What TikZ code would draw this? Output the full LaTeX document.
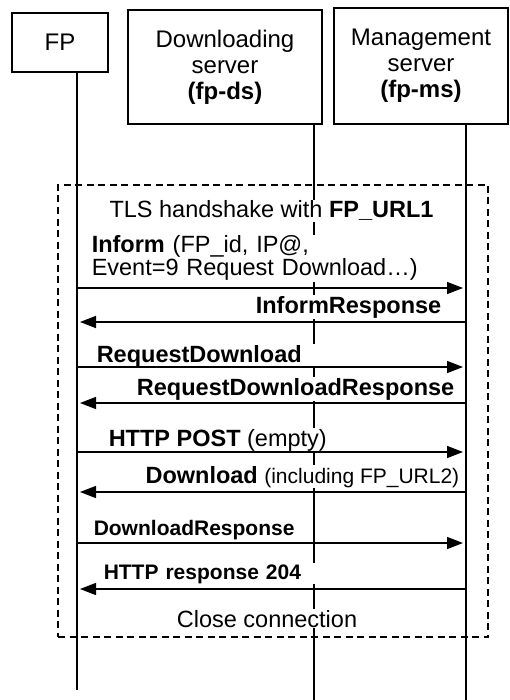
\documentclass[tikz,border=0pt]{standalone}
\usepackage{fontspec}
\setmainfont{Liberation Sans}
\usetikzlibrary{arrows.meta, positioning}
\newcommand{\bigtxt}{\fontsize{23.5}{21}\selectfont}
\newcommand{\smalltxt}{\fontsize{21}{21}\selectfont}

\begin{document}
\begin{tikzpicture}[x=1pt, y=-1pt, line width=1.5pt,
		actor/.style={draw, align=center, font=\fontsize{24}{26}\selectfont},
		msg/.style={-{Triangle[length=16pt, width=12pt]}, shorten >=3pt},
		note/.style={fill=white, inner sep=1pt, font=\bigtxt}]
	\useasboundingbox (0,0) rectangle (509,700);
	\node[actor, minimum width=96pt, minimum height=59pt] (fp) at (60,42.5) {FP};
	\node[actor, minimum width=194pt, minimum height=114pt] (ds) at (225,67) {Downloading\\server\\\textbf{(fp-ds)}};
	\node[actor, minimum width=174pt, minimum height=116pt] (ms) at (421,66) {Management\\server\\\textbf{(fp-ms)}};
	% lifelines
	\coordinate (fpend) at (77,690);
	\coordinate (dsend) at (314,700);
	\coordinate (msend) at (466,700);
	\draw (fp.south -| fpend) -- (fpend);
	\draw (ds.south -| dsend) -- (dsend);
	\draw (ms.south -| msend) -- (msend);
	\node[draw, dash pattern=on 7pt off 4.5pt, minimum width=430pt, minimum height=452pt] (tls) at (273,411) {};
	% labels
	\node[note, anchor=base] (tlstxt) at (271.5,218) {TLS handshake with \textbf{FP\_URL1}};
	\node[note, anchor=base west, text width=330pt, align=left] (inform) at (90,253) {\textbf{Inform} (FP\_id, IP@,\\Event=9 Request Download…)};
	\node[note, anchor=base east] (informrsp) at (443,313) {\textbf{InformResponse}};
	\node[note, anchor=base west, text width=222pt, align=left] (reqdl) at (95,362) {\textbf{RequestDownload}};
	\node[note, anchor=base east] (reqdlrsp) at (456,395) {\textbf{RequestDownloadResponse}};
	\node[note, anchor=base west] (post) at (107,446) {\textbf{HTTP POST} (empty)};
	\node[note, anchor=base east] (dl) at (461,483) {\textbf{Download} {\smalltxt (including FP\_URL2)}};
	\node[note, anchor=base west, font=\smalltxt\bfseries] (dlrsp) at (92,535) {DownloadResponse};
	\node[note, anchor=base west, text width=220pt, align=left, font=\smalltxt\bfseries] (rsp204) at (102,579) {HTTP response 204};
	\node[note, anchor=base] (close) at (267,627) {Close connection};
	% messages
	\foreach \i/\y in {1/288, 2/322, 3/367, 4/403, 5/452, 6/492, 7/543, 8/589} {
		\coordinate (fp\i) at (77,\y);
		\coordinate (ms\i) at (466,\y);
	}
	\draw
	(fp1) edge[msg] (ms1)
	(ms2) edge[msg] (fp2)
	(fp3) edge[msg] (ms3)
	(ms4) edge[msg] (fp4)
	(fp5) edge[msg] (ms5)
	(ms6) edge[msg] (fp6)
	(fp7) edge[msg] (ms7)
	(ms8) edge[msg] (fp8);
\end{tikzpicture}
\end{document}
